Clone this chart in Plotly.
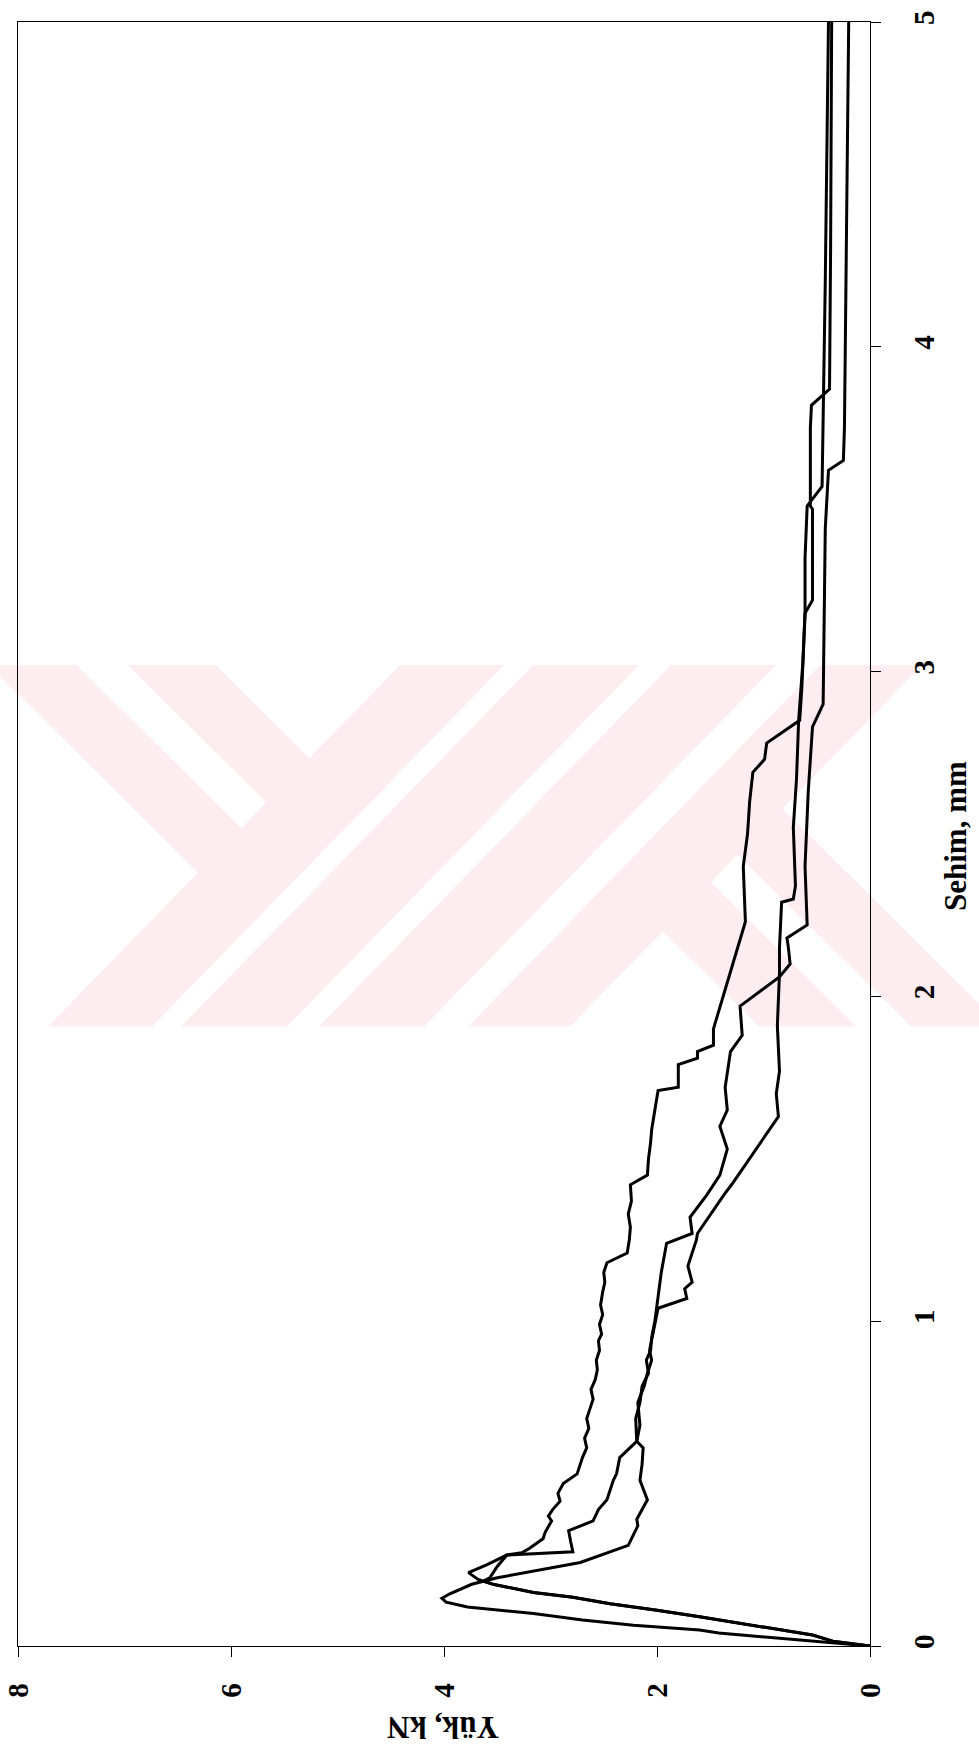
import plotly.graph_objects as go

# Load-deflection records of three specimens (deflection in mm, load in kN)
defl_1 = [0, 0.012, 0.024, 0.04, 0.049, 0.064, 0.08, 0.10, 0.12, 0.135, 0.147, 0.16, 0.19, 0.21,
          0.257, 0.31, 0.37, 0.39, 0.45, 0.51, 0.56, 0.61, 0.63, 0.68, 0.75, 0.80, 0.84, 0.88,
          0.91, 0.96, 1.0, 1.04, 1.07, 1.10, 1.12, 1.17, 1.25, 1.27, 1.39, 1.42, 1.63, 1.70,
          1.77, 1.84, 1.91, 2.07, 2.15, 2.29, 2.30, 2.34, 2.52, 2.67, 2.85, 3.03, 3.18, 3.22,
          3.35, 3.50, 3.51, 3.75, 3.82, 3.87, 4.3, 5.0]
load_1 = [0, 0.45, 0.84, 1.42, 1.6, 2.22, 2.7, 3.16, 3.78, 3.98, 4.02, 3.95, 3.74, 3.5,
          2.72, 2.27, 2.18, 2.19, 2.09, 2.16, 2.14, 2.13, 2.19, 2.16, 2.18, 2.12, 2.09, 2.05,
          2.07, 2.04, 2.02, 1.99, 1.72, 1.74, 1.67, 1.71, 1.63, 1.62, 1.37, 1.30, 0.86, 0.88,
          0.85, 0.86, 0.87, 0.85, 0.85, 0.83, 0.72, 0.70, 0.72, 0.69, 0.67, 0.63, 0.61, 0.54,
          0.54, 0.54, 0.56, 0.56, 0.55, 0.38, 0.37, 0.36]

defl_2 = [0, 0.015, 0.034, 0.05, 0.07, 0.09, 0.11, 0.13, 0.15, 0.165, 0.19, 0.205, 0.226,
          0.25, 0.28, 0.287, 0.30, 0.33, 0.35, 0.37, 0.385, 0.40, 0.42, 0.446, 0.47, 0.50,
          0.53, 0.56, 0.58, 0.61, 0.64, 0.67, 0.70, 0.73, 0.76, 0.79, 0.82, 0.85, 0.88, 0.91,
          0.94, 0.96, 0.99, 1.02, 1.05, 1.09, 1.12, 1.15, 1.18, 1.21, 1.25, 1.29, 1.33, 1.37,
          1.42, 1.45, 1.50, 1.55, 1.59, 1.65, 1.71, 1.72, 1.79, 1.81, 1.83, 1.85, 1.90, 2.23,
          2.30, 2.40, 2.50, 2.60, 2.69, 2.73, 2.78, 2.85, 2.95, 3.03, 3.18, 3.35, 3.51, 3.57,
          3.75, 4.2, 5.0]
load_2 = [0, 0.35, 0.54, 0.84, 1.2, 1.6, 2.0, 2.44, 2.79, 3.16, 3.54, 3.68, 3.77,
          3.60, 3.41, 3.27, 3.20, 3.07, 3.05, 3.02, 2.99, 3.02, 2.98, 2.91, 2.93, 2.88,
          2.75, 2.72, 2.70, 2.66, 2.68, 2.64, 2.66, 2.63, 2.60, 2.62, 2.58, 2.56, 2.57, 2.54,
          2.55, 2.52, 2.54, 2.51, 2.53, 2.51, 2.49, 2.50, 2.47, 2.28, 2.26, 2.25, 2.27, 2.24,
          2.25, 2.09, 2.08, 2.06, 2.05, 2.02, 1.99, 1.80, 1.80, 1.62, 1.62, 1.47, 1.47, 1.17,
          1.18, 1.19, 1.15, 1.13, 1.10, 0.99, 0.97, 0.66, 0.64, 0.63, 0.61, 0.61, 0.59, 0.45,
          0.44, 0.42, 0.39]

defl_3 = [0, 0.015, 0.034, 0.05, 0.07, 0.09, 0.11, 0.13, 0.15, 0.165, 0.19, 0.20, 0.21,
          0.245, 0.28, 0.29, 0.32, 0.355, 0.385, 0.42, 0.45, 0.51, 0.53, 0.58, 0.63, 0.70,
          0.75, 0.80, 0.84, 0.88, 0.91, 0.95, 1.0, 1.05, 1.15, 1.24, 1.27, 1.32, 1.39, 1.45,
          1.53, 1.60, 1.65, 1.72, 1.83, 1.88, 1.97, 2.06, 2.10, 2.16, 2.18, 2.22, 2.30, 2.40,
          2.63, 2.83, 2.90, 3.2, 3.44, 3.62, 3.65, 3.75, 5.0]
load_3 = [0, 0.35, 0.54, 0.84, 1.2, 1.6, 2.0, 2.44, 2.79, 3.16, 3.54, 3.63, 3.57,
          3.50, 3.41, 2.79, 2.81, 2.83, 2.60, 2.55, 2.47, 2.41, 2.38, 2.35, 2.19, 2.20,
          2.16, 2.14, 2.08, 2.10, 2.06, 2.05, 2.02, 2.00, 1.96, 1.91, 1.67, 1.69, 1.53, 1.41,
          1.34, 1.41, 1.34, 1.36, 1.31, 1.20, 1.22, 0.85, 0.75, 0.77, 0.78, 0.59, 0.60, 0.61,
          0.58, 0.54, 0.44, 0.43, 0.42, 0.39, 0.25, 0.24, 0.20]

load_ticks = [0, 2, 4, 6, 8]
defl_ticks = [0, 1, 2, 3, 4, 5]

W, H = 979, 1746
ML, MR, MT, MB = 18, 109, 10, 100
PW, PH = W - ML - MR, H - MT - MB


def to_paper(X, Y):
    return (X - ML) / PW, (H - MB - Y) / PH


def path_from(points):
    pts = [to_paper(x, y) for x, y in points]
    return "M " + " L ".join(f"{x:.5f},{y:.5f}" for x, y in pts) + " Z"


# Faint background emblem built from 45-degree bands (pixel geometry)
Y0, Y1 = 658, 1022
K = 352 / 364


def band_dl(top0, top1):
    d = K * (Y1 - Y0)
    return [(top0, Y0), (top1, Y0), (top1 - d, Y1), (top0 - d, Y1)]


def hit(a, c):
    # intersection of X - Y = a with X = c - K*(Y - Y0)
    y = (c + K * Y0 - a) / (1 + K)
    return (y + a, y)


def band_dr_above(a, b, c):
    return [(a + Y0, Y0), (b + Y0, Y0), hit(b, c), hit(a, c)]


def band_dr_below(a, b, c):
    return [hit(a, c), hit(b, c), (b + Y1, Y1), (a + Y1, Y1)]


polys = [
    band_dl(400, 504), band_dl(533, 639), band_dl(671, 776), band_dl(820, 922),
    band_dr_above(-669, -581, 452), band_dr_above(-530, -442, 452),
    band_dr_below(-263, -166, 871), band_dr_below(-111, -20, 871),
]

shapes = [dict(type="path", path=path_from(p), xref="paper", yref="paper",
               fillcolor="#fdedf0", line=dict(width=0), layer="below") for p in polys]

fig = go.Figure()
for d, p, nm in [(defl_1, load_1, "Numune 1"), (defl_2, load_2, "Numune 2"),
                 (defl_3, load_3, "Numune 3")]:
    fig.add_trace(go.Scatter(x=p, y=d, mode="lines", name=nm, showlegend=False,
                             line=dict(color="black", width=3)))

tick_font = dict(family="Liberation Serif", size=29, color="black", weight="bold")
title_font = dict(family="Liberation Serif", size=31, color="black", weight="bold")

# Load-axis tick labels placed as rotated text below the axis
label_y = to_paper(0, 1691)[1]
load_labels = [dict(text=str(v), x=v, y=label_y, xref="x", yref="paper", showarrow=False,
                    textangle=-90, font=tick_font, xanchor="center", yanchor="middle")
               for v in load_ticks]

fig.update_layout(
    width=W, height=H,
    margin=dict(l=ML, r=MR, t=MT, b=MB),
    paper_bgcolor="white", plot_bgcolor="rgba(0,0,0,0)",
    shapes=shapes,
    xaxis=dict(range=[8, 0], tickvals=load_ticks, showticklabels=False,
               ticks="outside", ticklen=10, tickcolor="black",
               showline=True, linecolor="black", linewidth=1, mirror=True,
               showgrid=False, zeroline=False),
    yaxis=dict(range=[0, 5], tickvals=defl_ticks, ticktext=[str(v) for v in defl_ticks],
               side="right", tickangle=-90, ticks="outside", ticklen=10, tickcolor="black",
               showline=True, linecolor="black", linewidth=1, mirror=True,
               ticklabeloverflow="allow",
               showgrid=False, zeroline=False, tickfont=tick_font, ticklabelstandoff=18),
    annotations=load_labels + [
        dict(text="Sehim, mm", x=to_paper(956, 830)[0], y=to_paper(956, 830)[1],
             xref="paper", yref="paper", showarrow=False, textangle=-90,
             font=title_font, xanchor="center", yanchor="middle"),
        dict(text="Yük, kN", x=to_paper(443, 1728)[0], y=to_paper(443, 1728)[1],
             xref="paper", yref="paper", showarrow=False, textangle=180,
             font=title_font, xanchor="center", yanchor="middle"),
    ],
)

fig.write_html("out.html")
